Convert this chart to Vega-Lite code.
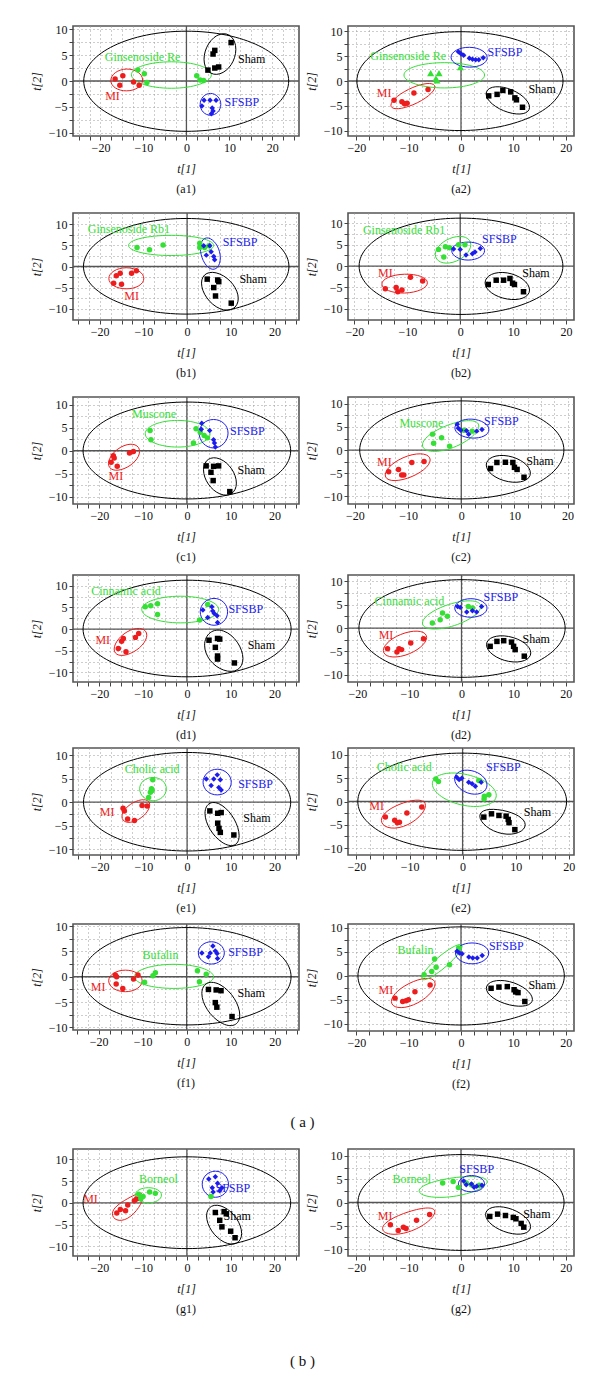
{
"$schema": "https://vega.github.io/schema/vega-lite/v6.json",
"padding": {"left": 29, "top": 22, "right": 5, "bottom": 5},
"config": {
 "view": {"stroke": "#555", "strokeWidth": 1.6},
 "legend": {"disable": true},
 "range": {"category": ["#33e033", "#ee1c1c", "#1c1cee", "#000000", "#000000"], "symbol": ["circle", "circle", "diamond", "square"]},
 "axis": {"domain": false, "grid": true, "gridColor": "#9a9a9a", "gridDash": [1, 3], "gridWidth": 1, "tickColor": "#444", "tickSize": 4, "tickWidth": 1, "labelOverlap": false, "labelFont": "Liberation Serif", "labelFontSize": 12, "labelColor": "#111", "labelPadding": 2, "titleFont": "Liberation Serif", "titleFontSize": 12, "titleFontStyle": "italic", "titleFontWeight": "normal", "titleColor": "#111"},
 "axisX": {"titlePadding": 10},
 "axisY": {"titlePadding": 5},
 "title": {"orient": "bottom", "font": "Liberation Serif", "fontSize": 12, "fontWeight": "normal", "color": "#111", "offset": 10, "anchor": "middle"},
 "point": {"filled": true, "opacity": 1, "size": 30},
 "text": {"font": "Liberation Serif", "fontSize": 12}
},
"datasets": {
 "pts": [
  {"p":"a1","g":"MI","x":-16.6,"y":0.4},{"p":"a1","g":"MI","x":-14.8,"y":1.0},{"p":"a1","g":"MI","x":-15.5,"y":-0.8},{"p":"a1","g":"MI","x":-12.3,"y":-0.2},{"p":"a1","g":"MI","x":-11.0,"y":-0.8},
  {"p":"a1","g":"Drug","x":-11.3,"y":2.1},{"p":"a1","g":"Drug","x":-9.8,"y":1.4},{"p":"a1","g":"Drug","x":-9.2,"y":-0.3},{"p":"a1","g":"Drug","x":2.4,"y":1.0},{"p":"a1","g":"Drug","x":3.2,"y":0.2},{"p":"a1","g":"Drug","x":4.0,"y":0.1},
  {"p":"a1","g":"SFSBP","x":4.1,"y":-3.7},{"p":"a1","g":"SFSBP","x":5.5,"y":-3.7},{"p":"a1","g":"SFSBP","x":6.9,"y":-3.7},{"p":"a1","g":"SFSBP","x":3.6,"y":-4.8},{"p":"a1","g":"SFSBP","x":6.0,"y":-5.2},{"p":"a1","g":"SFSBP","x":6.2,"y":-5.8},{"p":"a1","g":"SFSBP","x":5.8,"y":-6.3},
  {"p":"a1","g":"Sham","x":10.4,"y":7.4},{"p":"a1","g":"Sham","x":6.6,"y":5.9},{"p":"a1","g":"Sham","x":6.2,"y":5.2},{"p":"a1","g":"Sham","x":5.0,"y":2.1},{"p":"a1","g":"Sham","x":6.6,"y":2.5},{"p":"a1","g":"Sham","x":7.5,"y":2.7},

  {"p":"a2","g":"MI","x":-12.8,"y":-3.9},{"p":"a2","g":"MI","x":-11.3,"y":-4.2},{"p":"a2","g":"MI","x":-10.8,"y":-4.6},{"p":"a2","g":"MI","x":-10.3,"y":-4.5},{"p":"a2","g":"MI","x":-9.0,"y":-2.4},{"p":"a2","g":"MI","x":-6.3,"y":-1.7},
  {"p":"a2","g":"Drug","x":-5.8,"y":1.6},{"p":"a2","g":"Drug","x":-4.2,"y":1.6},{"p":"a2","g":"Drug","x":-4.8,"y":0.5},{"p":"a2","g":"Drug","x":-4.6,"y":0.1},{"p":"a2","g":"Drug","x":-0.1,"y":2.8},
  {"p":"a2","g":"SFSBP","x":-0.5,"y":5.9},{"p":"a2","g":"SFSBP","x":0.0,"y":5.5},{"p":"a2","g":"SFSBP","x":0.5,"y":5.2},{"p":"a2","g":"SFSBP","x":1.6,"y":4.6},{"p":"a2","g":"SFSBP","x":2.2,"y":4.4},{"p":"a2","g":"SFSBP","x":2.8,"y":4.3},{"p":"a2","g":"SFSBP","x":3.4,"y":4.3},{"p":"a2","g":"SFSBP","x":4.25,"y":4.7},
  {"p":"a2","g":"Sham","x":5.3,"y":-3.0},{"p":"a2","g":"Sham","x":6.9,"y":-2.7},{"p":"a2","g":"Sham","x":8.0,"y":-1.9},{"p":"a2","g":"Sham","x":9.5,"y":-2.2},{"p":"a2","g":"Sham","x":10.3,"y":-3.4},{"p":"a2","g":"Sham","x":10.6,"y":-3.8},{"p":"a2","g":"Sham","x":11.75,"y":-5.3},

  {"p":"b1","g":"MI","x":-16.8,"y":-4.0},{"p":"b1","g":"MI","x":-16.2,"y":-2.2},{"p":"b1","g":"MI","x":-15.3,"y":-1.6},{"p":"b1","g":"MI","x":-15.0,"y":-4.2},{"p":"b1","g":"MI","x":-12.7,"y":-1.6},{"p":"b1","g":"MI","x":-11.6,"y":-1.0},
  {"p":"b1","g":"Drug","x":-11.45,"y":4.5},{"p":"b1","g":"Drug","x":-8.6,"y":4.0},{"p":"b1","g":"Drug","x":-5.5,"y":5.1},{"p":"b1","g":"Drug","x":2.9,"y":5.5},{"p":"b1","g":"Drug","x":2.9,"y":4.5},{"p":"b1","g":"Drug","x":4.0,"y":4.5},{"p":"b1","g":"Drug","x":5.0,"y":4.9},
  {"p":"b1","g":"SFSBP","x":3.8,"y":4.9},{"p":"b1","g":"SFSBP","x":4.4,"y":2.7},{"p":"b1","g":"SFSBP","x":5.5,"y":3.5},{"p":"b1","g":"SFSBP","x":6.1,"y":2.4},{"p":"b1","g":"SFSBP","x":6.3,"y":1.6},{"p":"b1","g":"SFSBP","x":5.2,"y":4.9},
  {"p":"b1","g":"Sham","x":4.6,"y":-3.0},{"p":"b1","g":"Sham","x":7.0,"y":-3.2},{"p":"b1","g":"Sham","x":7.25,"y":-3.6},{"p":"b1","g":"Sham","x":6.1,"y":-5.0},{"p":"b1","g":"Sham","x":6.5,"y":-7.0},{"p":"b1","g":"Sham","x":10.1,"y":-8.7},

  {"p":"b2","g":"MI","x":-14.15,"y":-5.3},{"p":"b2","g":"MI","x":-12.1,"y":-5.0},{"p":"b2","g":"MI","x":-11.8,"y":-6.0},{"p":"b2","g":"MI","x":-11.0,"y":-5.6},{"p":"b2","g":"MI","x":-9.4,"y":-2.6},{"p":"b2","g":"MI","x":-7.1,"y":-3.5},
  {"p":"b2","g":"Drug","x":-4.1,"y":3.9},{"p":"b2","g":"Drug","x":-2.8,"y":4.5},{"p":"b2","g":"Drug","x":-2.0,"y":4.3},{"p":"b2","g":"Drug","x":-3.1,"y":2.1},{"p":"b2","g":"Drug","x":-0.3,"y":5.0},{"p":"b2","g":"Drug","x":0.9,"y":5.0},
  {"p":"b2","g":"SFSBP","x":-1.25,"y":4.0},{"p":"b2","g":"SFSBP","x":0.0,"y":3.9},{"p":"b2","g":"SFSBP","x":1.1,"y":2.6},{"p":"b2","g":"SFSBP","x":2.3,"y":2.9},{"p":"b2","g":"SFSBP","x":2.8,"y":3.3},{"p":"b2","g":"SFSBP","x":3.8,"y":4.1},
  {"p":"b2","g":"Sham","x":5.3,"y":-4.3},{"p":"b2","g":"Sham","x":6.8,"y":-3.3},{"p":"b2","g":"Sham","x":8.2,"y":-3.3},{"p":"b2","g":"Sham","x":9.4,"y":-2.9},{"p":"b2","g":"Sham","x":9.9,"y":-4.0},{"p":"b2","g":"Sham","x":10.25,"y":-4.3},{"p":"b2","g":"Sham","x":11.95,"y":-6.0},

  {"p":"c1","g":"MI","x":-17.3,"y":-2.5},{"p":"c1","g":"MI","x":-16.8,"y":-1.1},{"p":"c1","g":"MI","x":-16.6,"y":-1.6},{"p":"c1","g":"MI","x":-15.9,"y":-3.4},{"p":"c1","g":"MI","x":-13.1,"y":-0.5},{"p":"c1","g":"MI","x":-12.2,"y":-0.15},
  {"p":"c1","g":"Drug","x":-8.4,"y":4.4},{"p":"c1","g":"Drug","x":-8.2,"y":2.4},{"p":"c1","g":"Drug","x":2.1,"y":4.8},{"p":"c1","g":"Drug","x":3.05,"y":4.0},{"p":"c1","g":"Drug","x":3.95,"y":3.3},{"p":"c1","g":"Drug","x":1.5,"y":1.7},{"p":"c1","g":"Drug","x":4.7,"y":2.8},
  {"p":"c1","g":"SFSBP","x":3.4,"y":6.0},{"p":"c1","g":"SFSBP","x":3.3,"y":4.7},{"p":"c1","g":"SFSBP","x":5.2,"y":4.4},{"p":"c1","g":"SFSBP","x":6.1,"y":2.4},{"p":"c1","g":"SFSBP","x":6.3,"y":1.7},{"p":"c1","g":"SFSBP","x":6.5,"y":0.8},
  {"p":"c1","g":"Sham","x":4.4,"y":-3.3},{"p":"c1","g":"Sham","x":6.1,"y":-3.4},{"p":"c1","g":"Sham","x":7.25,"y":-3.3},{"p":"c1","g":"Sham","x":5.5,"y":-4.7},{"p":"c1","g":"Sham","x":6.0,"y":-6.5},{"p":"c1","g":"Sham","x":9.8,"y":-8.9},

  {"p":"c2","g":"MI","x":-13.65,"y":-4.7},{"p":"c2","g":"MI","x":-11.8,"y":-4.2},{"p":"c2","g":"MI","x":-11.2,"y":-5.4},{"p":"c2","g":"MI","x":-10.8,"y":-5.4},{"p":"c2","g":"MI","x":-9.3,"y":-2.7},{"p":"c2","g":"MI","x":-7.0,"y":-2.5},
  {"p":"c2","g":"Drug","x":-5.4,"y":3.45},{"p":"c2","g":"Drug","x":-5.2,"y":1.45},{"p":"c2","g":"Drug","x":-3.7,"y":2.65},{"p":"c2","g":"Drug","x":-2.2,"y":0.85},{"p":"c2","g":"Drug","x":0.5,"y":4.3},{"p":"c2","g":"Drug","x":2.05,"y":4.1},
  {"p":"c2","g":"SFSBP","x":-0.75,"y":5.6},{"p":"c2","g":"SFSBP","x":-0.55,"y":4.7},{"p":"c2","g":"SFSBP","x":-0.1,"y":4.3},{"p":"c2","g":"SFSBP","x":1.0,"y":4.2},{"p":"c2","g":"SFSBP","x":1.4,"y":3.4},{"p":"c2","g":"SFSBP","x":2.9,"y":4.1},{"p":"c2","g":"SFSBP","x":3.9,"y":4.45},
  {"p":"c2","g":"Sham","x":5.5,"y":-4.0},{"p":"c2","g":"Sham","x":6.7,"y":-2.7},{"p":"c2","g":"Sham","x":8.3,"y":-2.65},{"p":"c2","g":"Sham","x":9.7,"y":-2.7},{"p":"c2","g":"Sham","x":10.0,"y":-3.75},{"p":"c2","g":"Sham","x":10.5,"y":-4.2},{"p":"c2","g":"Sham","x":11.8,"y":-5.9},

  {"p":"d1","g":"MI","x":-15.65,"y":-4.45},{"p":"d1","g":"MI","x":-14.9,"y":-2.8},{"p":"d1","g":"MI","x":-14.5,"y":-2.15},{"p":"d1","g":"MI","x":-13.9,"y":-5.2},{"p":"d1","g":"MI","x":-11.75,"y":-1.9},{"p":"d1","g":"MI","x":-11.0,"y":-1.0},
  {"p":"d1","g":"Drug","x":-9.5,"y":5.15},{"p":"d1","g":"Drug","x":-8.25,"y":5.4},{"p":"d1","g":"Drug","x":-6.7,"y":5.85},{"p":"d1","g":"Drug","x":-6.7,"y":3.4},{"p":"d1","g":"Drug","x":2.9,"y":2.1},{"p":"d1","g":"Drug","x":4.75,"y":5.7},
  {"p":"d1","g":"SFSBP","x":3.65,"y":4.4},{"p":"d1","g":"SFSBP","x":5.7,"y":5.15},{"p":"d1","g":"SFSBP","x":5.9,"y":4.2},{"p":"d1","g":"SFSBP","x":6.25,"y":3.6},{"p":"d1","g":"SFSBP","x":4.75,"y":2.7},{"p":"d1","g":"SFSBP","x":6.9,"y":3.1},{"p":"d1","g":"SFSBP","x":7.0,"y":1.55},
  {"p":"d1","g":"Sham","x":5.05,"y":-2.55},{"p":"d1","g":"Sham","x":7.0,"y":-2.15},{"p":"d1","g":"Sham","x":7.5,"y":-2.3},{"p":"d1","g":"Sham","x":6.5,"y":-4.2},{"p":"d1","g":"Sham","x":7.0,"y":-6.2},{"p":"d1","g":"Sham","x":7.0,"y":-6.9},{"p":"d1","g":"Sham","x":10.85,"y":-7.8},

  {"p":"d2","g":"MI","x":-14.2,"y":-4.4},{"p":"d2","g":"MI","x":-12.4,"y":-5.1},{"p":"d2","g":"MI","x":-12.0,"y":-4.4},{"p":"d2","g":"MI","x":-11.5,"y":-4.6},{"p":"d2","g":"MI","x":-9.75,"y":-3.2},{"p":"d2","g":"MI","x":-7.3,"y":-2.3},
  {"p":"d2","g":"Drug","x":-5.6,"y":1.05},{"p":"d2","g":"Drug","x":-4.1,"y":1.75},{"p":"d2","g":"Drug","x":-3.65,"y":3.2},{"p":"d2","g":"Drug","x":-2.7,"y":2.5},{"p":"d2","g":"Drug","x":1.3,"y":4.6},{"p":"d2","g":"Drug","x":2.1,"y":4.25},
  {"p":"d2","g":"SFSBP","x":-0.75,"y":4.6},{"p":"d2","g":"SFSBP","x":-0.25,"y":4.4},{"p":"d2","g":"SFSBP","x":1.0,"y":3.4},{"p":"d2","g":"SFSBP","x":2.1,"y":3.7},{"p":"d2","g":"SFSBP","x":2.9,"y":3.4},{"p":"d2","g":"SFSBP","x":3.85,"y":4.6},
  {"p":"d2","g":"Sham","x":5.5,"y":-3.9},{"p":"d2","g":"Sham","x":6.8,"y":-2.85},{"p":"d2","g":"Sham","x":8.1,"y":-2.7},{"p":"d2","g":"Sham","x":9.6,"y":-3.0},{"p":"d2","g":"Sham","x":10.0,"y":-3.9},{"p":"d2","g":"Sham","x":10.3,"y":-4.6},{"p":"d2","g":"Sham","x":12.05,"y":-6.0},

  {"p":"e1","g":"MI","x":-14.65,"y":-1.3},{"p":"e1","g":"MI","x":-14.35,"y":-1.85},{"p":"e1","g":"MI","x":-13.6,"y":-3.55},{"p":"e1","g":"MI","x":-12.05,"y":-3.9},{"p":"e1","g":"MI","x":-10.3,"y":-0.7},{"p":"e1","g":"MI","x":-9.15,"y":-0.8},
  {"p":"e1","g":"Drug","x":-7.85,"y":4.75},{"p":"e1","g":"Drug","x":-8.15,"y":2.85},{"p":"e1","g":"Drug","x":-8.4,"y":2.1},{"p":"e1","g":"Drug","x":-8.8,"y":1.0},{"p":"e1","g":"Drug","x":-8.0,"y":2.5},
  {"p":"e1","g":"SFSBP","x":4.4,"y":4.9},{"p":"e1","g":"SFSBP","x":5.5,"y":3.55},{"p":"e1","g":"SFSBP","x":6.1,"y":4.9},{"p":"e1","g":"SFSBP","x":6.9,"y":5.8},{"p":"e1","g":"SFSBP","x":7.6,"y":4.75},{"p":"e1","g":"SFSBP","x":7.25,"y":3.1},{"p":"e1","g":"SFSBP","x":7.8,"y":2.6},
  {"p":"e1","g":"Sham","x":5.2,"y":-1.85},{"p":"e1","g":"Sham","x":7.0,"y":-2.35},{"p":"e1","g":"Sham","x":7.8,"y":-2.2},{"p":"e1","g":"Sham","x":7.0,"y":-4.45},{"p":"e1","g":"Sham","x":7.3,"y":-5.55},{"p":"e1","g":"Sham","x":7.6,"y":-6.4},{"p":"e1","g":"Sham","x":10.7,"y":-6.95},

  {"p":"e2","g":"MI","x":-14.55,"y":-3.35},{"p":"e2","g":"MI","x":-12.8,"y":-4.05},{"p":"e2","g":"MI","x":-12.3,"y":-4.55},{"p":"e2","g":"MI","x":-11.9,"y":-4.45},{"p":"e2","g":"MI","x":-10.5,"y":-2.45},{"p":"e2","g":"MI","x":-7.7,"y":-1.2},
  {"p":"e2","g":"Drug","x":-5.05,"y":4.85},{"p":"e2","g":"Drug","x":-4.55,"y":4.3},{"p":"e2","g":"Drug","x":4.1,"y":1.15},{"p":"e2","g":"Drug","x":4.95,"y":1.45},{"p":"e2","g":"Drug","x":4.05,"y":0.55},{"p":"e2","g":"Drug","x":3.05,"y":4.5},
  {"p":"e2","g":"SFSBP","x":-1.1,"y":5.2},{"p":"e2","g":"SFSBP","x":-0.65,"y":4.7},{"p":"e2","g":"SFSBP","x":-0.15,"y":5.0},{"p":"e2","g":"SFSBP","x":1.15,"y":4.15},{"p":"e2","g":"SFSBP","x":1.8,"y":3.8},{"p":"e2","g":"SFSBP","x":2.4,"y":3.3},{"p":"e2","g":"SFSBP","x":3.5,"y":4.15},
  {"p":"e2","g":"Sham","x":4.0,"y":-3.35},{"p":"e2","g":"Sham","x":5.45,"y":-2.65},{"p":"e2","g":"Sham","x":6.85,"y":-3.0},{"p":"e2","g":"Sham","x":8.2,"y":-3.15},{"p":"e2","g":"Sham","x":8.6,"y":-3.85},{"p":"e2","g":"Sham","x":8.75,"y":-4.55},{"p":"e2","g":"Sham","x":9.85,"y":-6.05},

  {"p":"f1","g":"MI","x":-16.2,"y":0.35},{"p":"f1","g":"MI","x":-15.9,"y":0.0},{"p":"f1","g":"MI","x":-16.0,"y":-1.45},{"p":"f1","g":"MI","x":-14.5,"y":-2.3},{"p":"f1","g":"MI","x":-12.05,"y":-0.45},{"p":"f1","g":"MI","x":-11.05,"y":0.35},
  {"p":"f1","g":"Drug","x":-9.55,"y":-1.1},{"p":"f1","g":"Drug","x":-7.65,"y":0.2},{"p":"f1","g":"Drug","x":-7.1,"y":0.8},{"p":"f1","g":"Drug","x":2.45,"y":1.2},{"p":"f1","g":"Drug","x":4.45,"y":0.5},{"p":"f1","g":"Drug","x":2.9,"y":-1.0},
  {"p":"f1","g":"SFSBP","x":3.45,"y":4.7},{"p":"f1","g":"SFSBP","x":4.95,"y":3.95},{"p":"f1","g":"SFSBP","x":5.95,"y":6.05},{"p":"f1","g":"SFSBP","x":6.5,"y":5.1},{"p":"f1","g":"SFSBP","x":5.35,"y":4.7},{"p":"f1","g":"SFSBP","x":7.0,"y":3.6},{"p":"f1","g":"SFSBP","x":6.9,"y":4.6},
  {"p":"f1","g":"Sham","x":4.95,"y":-2.5},{"p":"f1","g":"Sham","x":6.7,"y":-2.6},{"p":"f1","g":"Sham","x":7.8,"y":-2.75},{"p":"f1","g":"Sham","x":6.5,"y":-5.1},{"p":"f1","g":"Sham","x":6.85,"y":-6.0},{"p":"f1","g":"Sham","x":10.3,"y":-7.85},

  {"p":"f2","g":"MI","x":-12.6,"y":-4.65},{"p":"f2","g":"MI","x":-11.15,"y":-5.35},{"p":"f2","g":"MI","x":-10.5,"y":-5.2},{"p":"f2","g":"MI","x":-10.05,"y":-5.0},{"p":"f2","g":"MI","x":-8.8,"y":-3.3},{"p":"f2","g":"MI","x":-5.9,"y":-1.9},
  {"p":"f2","g":"Drug","x":-7.05,"y":0.2},{"p":"f2","g":"Drug","x":-5.6,"y":0.9},{"p":"f2","g":"Drug","x":-4.75,"y":1.8},{"p":"f2","g":"Drug","x":-5.05,"y":3.5},{"p":"f2","g":"Drug","x":-2.2,"y":2.3},{"p":"f2","g":"Drug","x":-0.45,"y":5.8},
  {"p":"f2","g":"SFSBP","x":-0.75,"y":5.1},{"p":"f2","g":"SFSBP","x":-0.3,"y":4.75},{"p":"f2","g":"SFSBP","x":0.2,"y":4.6},{"p":"f2","g":"SFSBP","x":1.5,"y":3.9},{"p":"f2","g":"SFSBP","x":2.25,"y":3.7},{"p":"f2","g":"SFSBP","x":3.1,"y":3.7},{"p":"f2","g":"SFSBP","x":4.05,"y":4.25},
  {"p":"f2","g":"Sham","x":5.75,"y":-2.6},{"p":"f2","g":"Sham","x":7.25,"y":-2.35},{"p":"f2","g":"Sham","x":8.85,"y":-2.25},{"p":"f2","g":"Sham","x":10.15,"y":-2.9},{"p":"f2","g":"Sham","x":10.45,"y":-3.35},{"p":"f2","g":"Sham","x":10.9,"y":-3.5},{"p":"f2","g":"Sham","x":12.2,"y":-5.35},

  {"p":"g1","g":"MI","x":-16.0,"y":-2.3},{"p":"g1","g":"MI","x":-15.2,"y":-1.5},{"p":"g1","g":"MI","x":-14.0,"y":-1.8},{"p":"g1","g":"MI","x":-13.5,"y":-0.5},{"p":"g1","g":"MI","x":-12.0,"y":0.5},{"p":"g1","g":"MI","x":-11.5,"y":0.9},
  {"p":"g1","g":"Drug","x":-11.0,"y":2.0},{"p":"g1","g":"Drug","x":-10.0,"y":1.5},{"p":"g1","g":"Drug","x":-8.5,"y":2.5},{"p":"g1","g":"Drug","x":-7.2,"y":2.2},{"p":"g1","g":"Drug","x":-10.5,"y":1.0},{"p":"g1","g":"Drug","x":5.5,"y":1.5},
  {"p":"g1","g":"SFSBP","x":5.0,"y":5.5},{"p":"g1","g":"SFSBP","x":6.5,"y":6.0},{"p":"g1","g":"SFSBP","x":7.0,"y":4.5},{"p":"g1","g":"SFSBP","x":5.8,"y":3.5},{"p":"g1","g":"SFSBP","x":8.0,"y":3.5},{"p":"g1","g":"SFSBP","x":7.5,"y":2.8},{"p":"g1","g":"SFSBP","x":6.0,"y":2.5},
  {"p":"g1","g":"Sham","x":6.5,"y":-2.2},{"p":"g1","g":"Sham","x":8.5,"y":-2.0},{"p":"g1","g":"Sham","x":9.0,"y":-2.5},{"p":"g1","g":"Sham","x":7.5,"y":-4.0},{"p":"g1","g":"Sham","x":8.0,"y":-5.5},{"p":"g1","g":"Sham","x":10.0,"y":-6.5},{"p":"g1","g":"Sham","x":11.0,"y":-8.0},

  {"p":"g2","g":"MI","x":-13.5,"y":-4.8},{"p":"g2","g":"MI","x":-12.0,"y":-6.0},{"p":"g2","g":"MI","x":-11.0,"y":-5.3},{"p":"g2","g":"MI","x":-10.5,"y":-5.6},{"p":"g2","g":"MI","x":-8.5,"y":-3.8},{"p":"g2","g":"MI","x":-6.0,"y":-2.6},
  {"p":"g2","g":"Drug","x":-3.5,"y":4.2},{"p":"g2","g":"Drug","x":-1.5,"y":4.5},{"p":"g2","g":"Drug","x":-0.5,"y":3.2},{"p":"g2","g":"Drug","x":1.0,"y":4.2},{"p":"g2","g":"Drug","x":2.0,"y":3.8},{"p":"g2","g":"Drug","x":3.5,"y":3.7},
  {"p":"g2","g":"SFSBP","x":0.5,"y":4.6},{"p":"g2","g":"SFSBP","x":1.0,"y":3.8},{"p":"g2","g":"SFSBP","x":2.0,"y":4.0},{"p":"g2","g":"SFSBP","x":3.0,"y":3.5},{"p":"g2","g":"SFSBP","x":4.0,"y":3.7},{"p":"g2","g":"SFSBP","x":2.5,"y":3.3},
  {"p":"g2","g":"Sham","x":5.5,"y":-3.0},{"p":"g2","g":"Sham","x":7.0,"y":-2.5},{"p":"g2","g":"Sham","x":8.5,"y":-2.8},{"p":"g2","g":"Sham","x":10.0,"y":-3.2},{"p":"g2","g":"Sham","x":10.5,"y":-3.5},{"p":"g2","g":"Sham","x":11.5,"y":-4.5},{"p":"g2","g":"Sham","x":12.0,"y":-5.3}
 ],
 "ell": [
  {"p":"a1","g":"T2","o":0,"x":-23.9,"y":0},{"p":"a1","g":"T2","o":1,"x":0,"y":9.6},{"p":"a1","g":"T2","o":2,"x":23.8,"y":0},{"p":"a1","g":"T2","o":3,"x":0,"y":-9.7},
  {"p":"a1","g":"MI","o":0,"x":-17.6,"y":0.1},{"p":"a1","g":"MI","o":1,"x":-13.9,"y":2.3},{"p":"a1","g":"MI","o":2,"x":-10.2,"y":0.2},{"p":"a1","g":"MI","o":3,"x":-13.9,"y":-1.9},
  {"p":"a1","g":"Drug","o":0,"x":-12.8,"y":1.2},{"p":"a1","g":"Drug","o":1,"x":-3.5,"y":3.7},{"p":"a1","g":"Drug","o":2,"x":5.8,"y":1.2},{"p":"a1","g":"Drug","o":3,"x":-3.5,"y":-1.4},
  {"p":"a1","g":"SFSBP","o":0,"x":3.2,"y":-4.5},{"p":"a1","g":"SFSBP","o":1,"x":5.6,"y":-2.4},{"p":"a1","g":"SFSBP","o":2,"x":8.0,"y":-4.5},{"p":"a1","g":"SFSBP","o":3,"x":5.6,"y":-6.6},
  {"p":"a1","g":"Sham","o":0,"x":4.1,"y":4.2},{"p":"a1","g":"Sham","o":1,"x":7.8,"y":9.0},{"p":"a1","g":"Sham","o":2,"x":11.5,"y":6.1},{"p":"a1","g":"Sham","o":3,"x":7.8,"y":1.4},

  {"p":"a2","g":"T2","o":0,"x":-19.9,"y":0},{"p":"a2","g":"T2","o":1,"x":-0.2,"y":9.95},{"p":"a2","g":"T2","o":2,"x":19.5,"y":0},{"p":"a2","g":"T2","o":3,"x":-0.2,"y":-10},
  {"p":"a2","g":"MI","o":0,"x":-13.4,"y":-4.9},{"p":"a2","g":"MI","o":1,"x":-9.2,"y":-1.3},{"p":"a2","g":"MI","o":2,"x":-5.0,"y":-1.2},{"p":"a2","g":"MI","o":3,"x":-9.2,"y":-4.8},
  {"p":"a2","g":"Drug","o":0,"x":-10.9,"y":1.2},{"p":"a2","g":"Drug","o":1,"x":-3.2,"y":3.7},{"p":"a2","g":"Drug","o":2,"x":4.5,"y":1.2},{"p":"a2","g":"Drug","o":3,"x":-3.2,"y":-1.4},
  {"p":"a2","g":"SFSBP","o":0,"x":-1.9,"y":4.8},{"p":"a2","g":"SFSBP","o":1,"x":1.6,"y":6.8},{"p":"a2","g":"SFSBP","o":2,"x":5.0,"y":4.7},{"p":"a2","g":"SFSBP","o":3,"x":1.6,"y":2.8},
  {"p":"a2","g":"Sham","o":0,"x":4.8,"y":-2.6},{"p":"a2","g":"Sham","o":1,"x":8.95,"y":-1.5},{"p":"a2","g":"Sham","o":2,"x":13.1,"y":-5.3},{"p":"a2","g":"Sham","o":3,"x":8.95,"y":-6.3},

  {"p":"b1","g":"T2","o":0,"x":-23.7,"y":0},{"p":"b1","g":"T2","o":1,"x":-0.2,"y":11.4},{"p":"b1","g":"T2","o":2,"x":23.3,"y":0},{"p":"b1","g":"T2","o":3,"x":-0.2,"y":-11.3},
  {"p":"b1","g":"MI","o":0,"x":-17.9,"y":-2.85},{"p":"b1","g":"MI","o":1,"x":-13.9,"y":-0.3},{"p":"b1","g":"MI","o":2,"x":-9.9,"y":-2.85},{"p":"b1","g":"MI","o":3,"x":-13.9,"y":-5.3},
  {"p":"b1","g":"Drug","o":0,"x":-13.4,"y":5.0},{"p":"b1","g":"Drug","o":1,"x":-3.65,"y":7.4},{"p":"b1","g":"Drug","o":2,"x":6.1,"y":5.0},{"p":"b1","g":"Drug","o":3,"x":-3.65,"y":2.6},
  {"p":"b1","g":"SFSBP","o":0,"x":3.05,"y":4.3},{"p":"b1","g":"SFSBP","o":1,"x":5.3,"y":6.6},{"p":"b1","g":"SFSBP","o":2,"x":7.6,"y":2.05},{"p":"b1","g":"SFSBP","o":3,"x":5.3,"y":-0.5},
  {"p":"b1","g":"Sham","o":0,"x":3.3,"y":-3.95},{"p":"b1","g":"Sham","o":1,"x":7.5,"y":-1.8},{"p":"b1","g":"Sham","o":2,"x":11.7,"y":-7.6},{"p":"b1","g":"Sham","o":3,"x":7.5,"y":-10.0},

  {"p":"b2","g":"T2","o":0,"x":-19.1,"y":0},{"p":"b2","g":"T2","o":1,"x":0.15,"y":11.2},{"p":"b2","g":"T2","o":2,"x":19.4,"y":0},{"p":"b2","g":"T2","o":3,"x":0.15,"y":-11.3},
  {"p":"b2","g":"MI","o":0,"x":-14.8,"y":-4.2},{"p":"b2","g":"MI","o":1,"x":-10.5,"y":-1.9},{"p":"b2","g":"MI","o":2,"x":-6.2,"y":-3.9},{"p":"b2","g":"MI","o":3,"x":-10.5,"y":-6.3},
  {"p":"b2","g":"Drug","o":0,"x":-4.7,"y":2.7},{"p":"b2","g":"Drug","o":1,"x":-1.35,"y":6.7},{"p":"b2","g":"Drug","o":2,"x":2.0,"y":5.0},{"p":"b2","g":"Drug","o":3,"x":-1.35,"y":0.9},
  {"p":"b2","g":"SFSBP","o":0,"x":-1.6,"y":3.6},{"p":"b2","g":"SFSBP","o":1,"x":1.5,"y":5.6},{"p":"b2","g":"SFSBP","o":2,"x":4.6,"y":3.6},{"p":"b2","g":"SFSBP","o":3,"x":1.5,"y":1.4},
  {"p":"b2","g":"Sham","o":0,"x":4.7,"y":-3.9},{"p":"b2","g":"Sham","o":1,"x":8.9,"y":-1.6},{"p":"b2","g":"Sham","o":2,"x":13.1,"y":-5.6},{"p":"b2","g":"Sham","o":3,"x":8.9,"y":-7.7},

  {"p":"c1","g":"T2","o":0,"x":-23.7,"y":0},{"p":"c1","g":"T2","o":1,"x":0,"y":10.6},{"p":"c1","g":"T2","o":2,"x":23.7,"y":0},{"p":"c1","g":"T2","o":3,"x":0,"y":-10.5},
  {"p":"c1","g":"MI","o":0,"x":-17.9,"y":-2.8},{"p":"c1","g":"MI","o":1,"x":-14.35,"y":1.1},{"p":"c1","g":"MI","o":2,"x":-10.8,"y":-0.15},{"p":"c1","g":"MI","o":3,"x":-14.35,"y":-3.9},
  {"p":"c1","g":"Drug","o":0,"x":-9.5,"y":3.7},{"p":"c1","g":"Drug","o":1,"x":-2.1,"y":6.6},{"p":"c1","g":"Drug","o":2,"x":5.3,"y":3.7},{"p":"c1","g":"Drug","o":3,"x":-2.1,"y":0.8},
  {"p":"c1","g":"SFSBP","o":0,"x":2.8,"y":3.85},{"p":"c1","g":"SFSBP","o":1,"x":6.1,"y":6.8},{"p":"c1","g":"SFSBP","o":2,"x":9.4,"y":3.85},{"p":"c1","g":"SFSBP","o":3,"x":6.1,"y":0.6},
  {"p":"c1","g":"Sham","o":0,"x":3.8,"y":-4.15},{"p":"c1","g":"Sham","o":1,"x":7.55,"y":-1.8},{"p":"c1","g":"Sham","o":2,"x":11.3,"y":-7.05},{"p":"c1","g":"Sham","o":3,"x":7.55,"y":-9.4},

  {"p":"c2","g":"T2","o":0,"x":-19.1,"y":0},{"p":"c2","g":"T2","o":1,"x":0.1,"y":10.65},{"p":"c2","g":"T2","o":2,"x":19.3,"y":0},{"p":"c2","g":"T2","o":3,"x":0.1,"y":-10.6},
  {"p":"c2","g":"MI","o":0,"x":-14.3,"y":-5.4},{"p":"c2","g":"MI","o":1,"x":-10.1,"y":-1.3},{"p":"c2","g":"MI","o":2,"x":-5.85,"y":-2.15},{"p":"c2","g":"MI","o":3,"x":-10.1,"y":-6.1},
  {"p":"c2","g":"Drug","o":0,"x":-7.3,"y":1.1},{"p":"c2","g":"Drug","o":1,"x":-2.0,"y":5.6},{"p":"c2","g":"Drug","o":2,"x":3.3,"y":5.2},{"p":"c2","g":"Drug","o":3,"x":-2.0,"y":0.35},
  {"p":"c2","g":"SFSBP","o":0,"x":-1.2,"y":4.8},{"p":"c2","g":"SFSBP","o":1,"x":2.0,"y":6.7},{"p":"c2","g":"SFSBP","o":2,"x":5.2,"y":4.4},{"p":"c2","g":"SFSBP","o":3,"x":2.0,"y":2.6},
  {"p":"c2","g":"Sham","o":0,"x":4.7,"y":-3.25},{"p":"c2","g":"Sham","o":1,"x":8.85,"y":-1.3},{"p":"c2","g":"Sham","o":2,"x":13.0,"y":-5.0},{"p":"c2","g":"Sham","o":3,"x":8.85,"y":-6.85},

  {"p":"d1","g":"T2","o":0,"x":-23.7,"y":0},{"p":"d1","g":"T2","o":1,"x":0,"y":11.3},{"p":"d1","g":"T2","o":2,"x":23.8,"y":0},{"p":"d1","g":"T2","o":3,"x":0,"y":-11.0},
  {"p":"d1","g":"MI","o":0,"x":-16.6,"y":-4.6},{"p":"d1","g":"MI","o":1,"x":-12.9,"y":-0.25},{"p":"d1","g":"MI","o":2,"x":-9.15,"y":-1.4},{"p":"d1","g":"MI","o":3,"x":-12.9,"y":-5.6},
  {"p":"d1","g":"Drug","o":0,"x":-10.3,"y":4.55},{"p":"d1","g":"Drug","o":1,"x":-1.5,"y":7.6},{"p":"d1","g":"Drug","o":2,"x":7.25,"y":4.55},{"p":"d1","g":"Drug","o":3,"x":-1.5,"y":1.45},
  {"p":"d1","g":"SFSBP","o":0,"x":3.05,"y":4.0},{"p":"d1","g":"SFSBP","o":1,"x":6.2,"y":7.1},{"p":"d1","g":"SFSBP","o":2,"x":9.3,"y":4.0},{"p":"d1","g":"SFSBP","o":3,"x":6.2,"y":0.9},
  {"p":"d1","g":"Sham","o":0,"x":4.05,"y":-3.7},{"p":"d1","g":"Sham","o":1,"x":8.4,"y":-0.45},{"p":"d1","g":"Sham","o":2,"x":12.8,"y":-6.8},{"p":"d1","g":"Sham","o":3,"x":8.4,"y":-9.45},

  {"p":"d2","g":"T2","o":0,"x":-19.7,"y":0},{"p":"d2","g":"T2","o":1,"x":0.1,"y":10.3},{"p":"d2","g":"T2","o":2,"x":19.9,"y":0},{"p":"d2","g":"T2","o":3,"x":0.1,"y":-10.5},
  {"p":"d2","g":"MI","o":0,"x":-15.0,"y":-4.8},{"p":"d2","g":"MI","o":1,"x":-10.85,"y":-1.05},{"p":"d2","g":"MI","o":2,"x":-6.7,"y":-2.0},{"p":"d2","g":"MI","o":3,"x":-10.85,"y":-5.8},
  {"p":"d2","g":"Drug","o":0,"x":-7.5,"y":1.05},{"p":"d2","g":"Drug","o":1,"x":-1.9,"y":5.2},{"p":"d2","g":"Drug","o":2,"x":3.7,"y":4.6},{"p":"d2","g":"Drug","o":3,"x":-1.9,"y":0.35},
  {"p":"d2","g":"SFSBP","o":0,"x":-1.3,"y":4.25},{"p":"d2","g":"SFSBP","o":1,"x":1.8,"y":6.25},{"p":"d2","g":"SFSBP","o":2,"x":4.9,"y":4.25},{"p":"d2","g":"SFSBP","o":3,"x":1.8,"y":2.3},
  {"p":"d2","g":"Sham","o":0,"x":4.8,"y":-3.55},{"p":"d2","g":"Sham","o":1,"x":9.05,"y":-1.8},{"p":"d2","g":"Sham","o":2,"x":13.3,"y":-5.3},{"p":"d2","g":"Sham","o":3,"x":9.05,"y":-7.1},

  {"p":"e1","g":"T2","o":0,"x":-23.7,"y":0},{"p":"e1","g":"T2","o":1,"x":0,"y":10.55},{"p":"e1","g":"T2","o":2,"x":23.7,"y":0},{"p":"e1","g":"T2","o":3,"x":0,"y":-10.35},
  {"p":"e1","g":"MI","o":0,"x":-14.9,"y":-3.05},{"p":"e1","g":"MI","o":1,"x":-11.75,"y":0.15},{"p":"e1","g":"MI","o":2,"x":-8.55,"y":-0.55},{"p":"e1","g":"MI","o":3,"x":-11.75,"y":-3.95},
  {"p":"e1","g":"Drug","o":0,"x":-10.85,"y":2.85},{"p":"e1","g":"Drug","o":1,"x":-7.8,"y":5.25},{"p":"e1","g":"Drug","o":2,"x":-4.75,"y":2.85},{"p":"e1","g":"Drug","o":3,"x":-7.8,"y":0.3},
  {"p":"e1","g":"SFSBP","o":0,"x":3.65,"y":4.25},{"p":"e1","g":"SFSBP","o":1,"x":6.9,"y":7.0},{"p":"e1","g":"SFSBP","o":2,"x":10.1,"y":4.25},{"p":"e1","g":"SFSBP","o":3,"x":6.9,"y":1.55},
  {"p":"e1","g":"Sham","o":0,"x":4.1,"y":-2.35},{"p":"e1","g":"Sham","o":1,"x":8.0,"y":-0.7},{"p":"e1","g":"Sham","o":2,"x":11.9,"y":-7.1},{"p":"e1","g":"Sham","o":3,"x":8.0,"y":-8.5},

  {"p":"e2","g":"T2","o":0,"x":-19.75,"y":0},{"p":"e2","g":"T2","o":1,"x":-0.1,"y":10.4},{"p":"e2","g":"T2","o":2,"x":19.6,"y":0},{"p":"e2","g":"T2","o":3,"x":-0.1,"y":-10.5},
  {"p":"e2","g":"MI","o":0,"x":-15.3,"y":-4.05},{"p":"e2","g":"MI","o":1,"x":-11.15,"y":-0.3},{"p":"e2","g":"MI","o":2,"x":-7.0,"y":-0.85},{"p":"e2","g":"MI","o":3,"x":-11.15,"y":-5.35},
  {"p":"e2","g":"Drug","o":0,"x":-5.7,"y":3.8},{"p":"e2","g":"Drug","o":1,"x":0.3,"y":5.9},{"p":"e2","g":"Drug","o":2,"x":6.35,"y":1.3},{"p":"e2","g":"Drug","o":3,"x":0.3,"y":-0.85},
  {"p":"e2","g":"SFSBP","o":0,"x":-1.5,"y":4.85},{"p":"e2","g":"SFSBP","o":1,"x":1.6,"y":6.65},{"p":"e2","g":"SFSBP","o":2,"x":4.6,"y":3.55},{"p":"e2","g":"SFSBP","o":3,"x":1.6,"y":1.65},
  {"p":"e2","g":"Sham","o":0,"x":3.25,"y":-3.15},{"p":"e2","g":"Sham","o":1,"x":7.5,"y":-1.9},{"p":"e2","g":"Sham","o":2,"x":11.8,"y":-5.0},{"p":"e2","g":"Sham","o":3,"x":7.5,"y":-6.9},

  {"p":"f1","g":"T2","o":0,"x":-23.7,"y":0},{"p":"f1","g":"T2","o":1,"x":0,"y":9.7},{"p":"f1","g":"T2","o":2,"x":23.7,"y":0},{"p":"f1","g":"T2","o":3,"x":0,"y":-9.5},
  {"p":"f1","g":"MI","o":0,"x":-17.7,"y":-0.8},{"p":"f1","g":"MI","o":1,"x":-13.9,"y":1.3},{"p":"f1","g":"MI","o":2,"x":-10.1,"y":-0.8},{"p":"f1","g":"MI","o":3,"x":-13.9,"y":-2.95},
  {"p":"f1","g":"Drug","o":0,"x":-11.85,"y":0},{"p":"f1","g":"Drug","o":1,"x":-2.9,"y":2.45},{"p":"f1","g":"Drug","o":2,"x":6.1,"y":0},{"p":"f1","g":"Drug","o":3,"x":-2.9,"y":-2.3},
  {"p":"f1","g":"SFSBP","o":0,"x":2.65,"y":4.7},{"p":"f1","g":"SFSBP","o":1,"x":5.6,"y":6.9},{"p":"f1","g":"SFSBP","o":2,"x":8.55,"y":4.7},{"p":"f1","g":"SFSBP","o":3,"x":5.6,"y":2.5},
  {"p":"f1","g":"Sham","o":0,"x":3.45,"y":-3.3},{"p":"f1","g":"Sham","o":1,"x":7.75,"y":-1.65},{"p":"f1","g":"Sham","o":2,"x":12.05,"y":-7.55},{"p":"f1","g":"Sham","o":3,"x":7.75,"y":-9.05},

  {"p":"f2","g":"T2","o":0,"x":-19.7,"y":0},{"p":"f2","g":"T2","o":1,"x":0,"y":10.2},{"p":"f2","g":"T2","o":2,"x":19.75,"y":0},{"p":"f2","g":"T2","o":3,"x":0,"y":-10.25},
  {"p":"f2","g":"MI","o":0,"x":-13.3,"y":-5.35},{"p":"f2","g":"MI","o":1,"x":-9.1,"y":-1.2},{"p":"f2","g":"MI","o":2,"x":-4.95,"y":-1.65},{"p":"f2","g":"MI","o":3,"x":-9.1,"y":-6.05},
  {"p":"f2","g":"Drug","o":0,"x":-7.5,"y":-0.45},{"p":"f2","g":"Drug","o":1,"x":-3.65,"y":4.45},{"p":"f2","g":"Drug","o":2,"x":0.2,"y":6.15},{"p":"f2","g":"Drug","o":3,"x":-3.65,"y":1.25},
  {"p":"f2","g":"SFSBP","o":0,"x":-1.05,"y":4.75},{"p":"f2","g":"SFSBP","o":1,"x":2.1,"y":6.85},{"p":"f2","g":"SFSBP","o":2,"x":5.3,"y":4.75},{"p":"f2","g":"SFSBP","o":3,"x":2.1,"y":2.5},
  {"p":"f2","g":"Sham","o":0,"x":4.85,"y":-2.6},{"p":"f2","g":"Sham","o":1,"x":9.25,"y":-1.2},{"p":"f2","g":"Sham","o":2,"x":13.65,"y":-4.9},{"p":"f2","g":"Sham","o":3,"x":9.25,"y":-6.05},

  {"p":"g1","g":"T2","o":0,"x":-23.7,"y":0},{"p":"g1","g":"T2","o":1,"x":0,"y":10.6},{"p":"g1","g":"T2","o":2,"x":23.7,"y":0},{"p":"g1","g":"T2","o":3,"x":0,"y":-10.5},
  {"p":"g1","g":"MI","o":0,"x":-17.0,"y":-2.5},{"p":"g1","g":"MI","o":1,"x":-13.5,"y":1.0},{"p":"g1","g":"MI","o":2,"x":-10.0,"y":1.5},{"p":"g1","g":"MI","o":3,"x":-13.5,"y":-3.5},
  {"p":"g1","g":"Drug","o":0,"x":-11.8,"y":1.8},{"p":"g1","g":"Drug","o":1,"x":-8.8,"y":3.5},{"p":"g1","g":"Drug","o":2,"x":-5.8,"y":1.8},{"p":"g1","g":"Drug","o":3,"x":-8.8,"y":0.0},
  {"p":"g1","g":"SFSBP","o":0,"x":3.5,"y":4.3},{"p":"g1","g":"SFSBP","o":1,"x":6.5,"y":7.3},{"p":"g1","g":"SFSBP","o":2,"x":9.5,"y":4.3},{"p":"g1","g":"SFSBP","o":3,"x":6.5,"y":1.3},
  {"p":"g1","g":"Sham","o":0,"x":4.5,"y":-3.0},{"p":"g1","g":"Sham","o":1,"x":8.5,"y":-1.0},{"p":"g1","g":"Sham","o":2,"x":12.5,"y":-7.0},{"p":"g1","g":"Sham","o":3,"x":8.5,"y":-9.0},

  {"p":"g2","g":"T2","o":0,"x":-19.7,"y":0},{"p":"g2","g":"T2","o":1,"x":0,"y":10.3},{"p":"g2","g":"T2","o":2,"x":19.7,"y":0},{"p":"g2","g":"T2","o":3,"x":0,"y":-10.3},
  {"p":"g2","g":"MI","o":0,"x":-15.0,"y":-5.6},{"p":"g2","g":"MI","o":1,"x":-10.0,"y":-2.0},{"p":"g2","g":"MI","o":2,"x":-5.0,"y":-2.0},{"p":"g2","g":"MI","o":3,"x":-10.0,"y":-6.3},
  {"p":"g2","g":"Drug","o":0,"x":-8.0,"y":2.5},{"p":"g2","g":"Drug","o":1,"x":-1.5,"y":5.3},{"p":"g2","g":"Drug","o":2,"x":5.0,"y":4.5},{"p":"g2","g":"Drug","o":3,"x":-1.5,"y":1.3},
  {"p":"g2","g":"SFSBP","o":0,"x":-0.5,"y":4.0},{"p":"g2","g":"SFSBP","o":1,"x":2.0,"y":5.8},{"p":"g2","g":"SFSBP","o":2,"x":4.5,"y":4.0},{"p":"g2","g":"SFSBP","o":3,"x":2.0,"y":2.3},
  {"p":"g2","g":"Sham","o":0,"x":4.7,"y":-2.6},{"p":"g2","g":"Sham","o":1,"x":9.0,"y":-1.2},{"p":"g2","g":"Sham","o":2,"x":13.3,"y":-5.2},{"p":"g2","g":"Sham","o":3,"x":9.0,"y":-6.5}
 ],
 "lab": [
  {"p":"a1","g":"Drug","x":-10.2,"y":4.6,"t":"Ginsenoside Re"},{"p":"a1","g":"MI","x":-17.2,"y":-2.9,"t":"MI"},{"p":"a1","g":"SFSBP","x":12.9,"y":-4.1,"t":"SFSBP"},{"p":"a1","g":"Sham","x":15.2,"y":4.2,"t":"Sham"},
  {"p":"a2","g":"Drug","x":-10.1,"y":5.1,"t":"Ginsenoside Re"},{"p":"a2","g":"MI","x":-14.7,"y":-2.4,"t":"MI"},{"p":"a2","g":"SFSBP","x":8.4,"y":5.9,"t":"SFSBP"},{"p":"a2","g":"Sham","x":15.5,"y":-1.7,"t":"Sham"},
  {"p":"b1","g":"Drug","x":-13.3,"y":8.85,"t":"Ginsenoside Rb1"},{"p":"b1","g":"MI","x":-12.7,"y":-7.0,"t":"MI"},{"p":"b1","g":"SFSBP","x":12.1,"y":5.85,"t":"SFSBP"},{"p":"b1","g":"Sham","x":15.1,"y":-3.0,"t":"Sham"},
  {"p":"b2","g":"Drug","x":-10.6,"y":8.4,"t":"Ginsenoside Rb1"},{"p":"b2","g":"MI","x":-14.15,"y":-1.55,"t":"MI"},{"p":"b2","g":"SFSBP","x":7.4,"y":6.35,"t":"SFSBP"},{"p":"b2","g":"Sham","x":14.3,"y":-1.55,"t":"Sham"},
  {"p":"c1","g":"Drug","x":-7.5,"y":8.1,"t":"Muscone"},{"p":"c1","g":"MI","x":-16.2,"y":-5.6,"t":"MI"},{"p":"c1","g":"SFSBP","x":13.8,"y":4.4,"t":"SFSBP"},{"p":"c1","g":"Sham","x":14.7,"y":-4.3,"t":"Sham"},
  {"p":"c2","g":"Drug","x":-7.5,"y":5.9,"t":"Muscone"},{"p":"c2","g":"MI","x":-14.45,"y":-2.7,"t":"MI"},{"p":"c2","g":"SFSBP","x":7.55,"y":6.3,"t":"SFSBP"},{"p":"c2","g":"Sham","x":14.8,"y":-2.4,"t":"Sham"},
  {"p":"d1","g":"Drug","x":-13.9,"y":8.85,"t":"Cinnamic acid"},{"p":"d1","g":"MI","x":-19.2,"y":-2.4,"t":"MI"},{"p":"d1","g":"SFSBP","x":13.45,"y":4.6,"t":"SFSBP"},{"p":"d1","g":"Sham","x":17.0,"y":-3.7,"t":"Sham"},
  {"p":"d2","g":"Drug","x":-10.0,"y":5.8,"t":"Cinnamic acid"},{"p":"d2","g":"MI","x":-14.5,"y":-1.4,"t":"MI"},{"p":"d2","g":"SFSBP","x":7.55,"y":6.6,"t":"SFSBP"},{"p":"d2","g":"Sham","x":14.35,"y":-2.25,"t":"Sham"},
  {"p":"e1","g":"Drug","x":-8.0,"y":7.1,"t":"Cholic acid"},{"p":"e1","g":"MI","x":-18.3,"y":-2.0,"t":"MI"},{"p":"e1","g":"SFSBP","x":15.65,"y":3.85,"t":"SFSBP"},{"p":"e1","g":"Sham","x":16.0,"y":-3.4,"t":"Sham"},
  {"p":"e2","g":"Drug","x":-11.0,"y":7.35,"t":"Cholic acid"},{"p":"e2","g":"MI","x":-16.2,"y":-1.0,"t":"MI"},{"p":"e2","g":"SFSBP","x":7.7,"y":7.35,"t":"SFSBP"},{"p":"e2","g":"Sham","x":14.1,"y":-2.15,"t":"Sham"},
  {"p":"f1","g":"Drug","x":-5.95,"y":4.25,"t":"Bufalin"},{"p":"f1","g":"MI","x":-20.1,"y":-2.1,"t":"MI"},{"p":"f1","g":"SFSBP","x":13.35,"y":4.9,"t":"SFSBP"},{"p":"f1","g":"Sham","x":14.65,"y":-3.3,"t":"Sham"},
  {"p":"f2","g":"Drug","x":-8.7,"y":5.3,"t":"Bufalin"},{"p":"f2","g":"MI","x":-14.35,"y":-2.95,"t":"MI"},{"p":"f2","g":"SFSBP","x":8.65,"y":6.25,"t":"SFSBP"},{"p":"f2","g":"Sham","x":15.5,"y":-1.9,"t":"Sham"},
  {"p":"g1","g":"Drug","x":-6.5,"y":5.5,"t":"Borneol"},{"p":"g1","g":"MI","x":-22.0,"y":0.8,"t":"MI"},{"p":"g1","g":"SFSBP","x":10.5,"y":3.5,"t":"SFSBP"},{"p":"g1","g":"Sham","x":11.5,"y":-3.0,"t":"Sham"},
  {"p":"g2","g":"Drug","x":-9.4,"y":5.0,"t":"Borneol"},{"p":"g2","g":"MI","x":-14.5,"y":-2.8,"t":"MI"},{"p":"g2","g":"SFSBP","x":3.0,"y":7.2,"t":"SFSBP"},{"p":"g2","g":"Sham","x":14.5,"y":-2.5,"t":"Sham"}
 ]
},
"vconcat": [
 {"title": {"text": "( a )", "fontSize": 15, "offset": 24},
  "spacing": 9,
  "vconcat": [
  {"spacing": 15, "vconcat": [
   {"spacing": 3, "hconcat": [
    {"width": 226, "height": 110, "title": {"text": "(a1)"}, "layer": [
     {"data": {"values": [{}]}, "mark": {"type": "rule", "color": "#555", "strokeWidth": 1.3}, "encoding": {"x": {"datum": 0}}},
     {"data": {"values": [{}]}, "mark": {"type": "rule", "color": "#555", "strokeWidth": 1.3}, "encoding": {"y": {"datum": 0}}},
     {"data": {"name": "ell"}, "transform": [{"filter": "datum.p == 'a1'"}], "mark": {"type": "line", "interpolate": "cardinal-closed", "tension": -0.657, "strokeWidth": 1}, "encoding": {
       "x": {"field": "x", "type": "quantitative", "scale": {"domain": [-26.4, 26.2], "nice": false, "zero": false}, "axis": {"title": "t[1]", "tickCount": 40, "format": "d", "values": [-25,-22.5,-20,-17.5,-15,-12.5,-10,-7.5,-5,-2.5,0,2.5,5,7.5,10,12.5,15,17.5,20,22.5,25], "labelExpr": "datum.value % 10 ? '' : datum.label"}},
       "y": {"field": "y", "type": "quantitative", "scale": {"domain": [-10.6, 10.6], "nice": false, "zero": false}, "axis": {"title": "t[2]", "tickCount": 40, "format": "d", "values": [-10,-7.5,-5,-2.5,0,2.5,5,7.5,10], "labelExpr": "datum.value % 5 ? '' : datum.label"}},
       "color": {"field": "g", "type": "nominal"}, "order": {"field": "o", "type": "quantitative"}}},
     {"data": {"name": "pts"}, "transform": [{"filter": "datum.p == 'a1'"}], "mark": {"type": "point"}, "encoding": {"x": {"field": "x", "type": "quantitative"}, "y": {"field": "y", "type": "quantitative"}, "color": {"field": "g", "type": "nominal"}, "shape": {"field": "g", "type": "nominal"}}},
     {"data": {"name": "lab"}, "transform": [{"filter": "datum.p == 'a1'"}], "mark": {"type": "text"}, "encoding": {"x": {"field": "x", "type": "quantitative"}, "y": {"field": "y", "type": "quantitative"}, "text": {"field": "t"}, "color": {"field": "g", "type": "nominal"}}}
    ]},
    {"width": 226, "height": 110, "title": {"text": "(a2)"}, "layer": [
     {"data": {"values": [{}]}, "mark": {"type": "rule", "color": "#555", "strokeWidth": 1.3}, "encoding": {"x": {"datum": 0}}},
     {"data": {"values": [{}]}, "mark": {"type": "rule", "color": "#555", "strokeWidth": 1.3}, "encoding": {"y": {"datum": 0}}},
     {"data": {"name": "ell"}, "transform": [{"filter": "datum.p == 'a2'"}], "mark": {"type": "line", "interpolate": "cardinal-closed", "tension": -0.657, "strokeWidth": 1}, "encoding": {
       "x": {"field": "x", "type": "quantitative", "scale": {"domain": [-21.6, 21.6], "nice": false, "zero": false}, "axis": {"title": "t[1]", "tickCount": 40, "format": "d", "values": [-20,-17.5,-15,-12.5,-10,-7.5,-5,-2.5,0,2.5,5,7.5,10,12.5,15,17.5,20], "labelExpr": "datum.value % 10 ? '' : datum.label"}},
       "y": {"field": "y", "type": "quantitative", "scale": {"domain": [-11.1, 11.1], "nice": false, "zero": false}, "axis": {"title": "t[2]", "tickCount": 40, "format": "d", "values": [-10,-7.5,-5,-2.5,0,2.5,5,7.5,10], "labelExpr": "datum.value % 5 ? '' : datum.label"}},
       "color": {"field": "g", "type": "nominal"}, "order": {"field": "o", "type": "quantitative"}}},
     {"data": {"name": "pts"}, "transform": [{"filter": "datum.p == 'a2'"}], "mark": {"type": "point"}, "encoding": {"x": {"field": "x", "type": "quantitative"}, "y": {"field": "y", "type": "quantitative"}, "color": {"field": "g", "type": "nominal"}, "shape": {"condition": {"test": "datum.g == 'Drug'", "value": "triangle-up"}, "field": "g", "type": "nominal"}, "size": {"condition": {"test": "datum.g == 'Drug'", "value": 50}, "value": 30}}},
     {"data": {"name": "lab"}, "transform": [{"filter": "datum.p == 'a2'"}], "mark": {"type": "text"}, "encoding": {"x": {"field": "x", "type": "quantitative"}, "y": {"field": "y", "type": "quantitative"}, "text": {"field": "t"}, "color": {"field": "g", "type": "nominal"}}}
    ]}
   ]},
   {"spacing": 3, "hconcat": [
    {"width": 226, "height": 107, "title": {"text": "(b1)"}, "layer": [
     {"data": {"values": [{}]}, "mark": {"type": "rule", "color": "#555", "strokeWidth": 1.3}, "encoding": {"x": {"datum": 0}}},
     {"data": {"values": [{}]}, "mark": {"type": "rule", "color": "#555", "strokeWidth": 1.3}, "encoding": {"y": {"datum": 0}}},
     {"data": {"name": "ell"}, "transform": [{"filter": "datum.p == 'b1'"}], "mark": {"type": "line", "interpolate": "cardinal-closed", "tension": -0.657, "strokeWidth": 1}, "encoding": {
       "x": {"field": "x", "type": "quantitative", "scale": {"domain": [-26.1, 25.6], "nice": false, "zero": false}, "axis": {"title": "t[1]", "tickCount": 40, "format": "d", "values": [-25,-22.5,-20,-17.5,-15,-12.5,-10,-7.5,-5,-2.5,0,2.5,5,7.5,10,12.5,15,17.5,20,22.5,25], "labelExpr": "datum.value % 10 ? '' : datum.label"}},
       "y": {"field": "y", "type": "quantitative", "scale": {"domain": [-12.7, 12.7], "nice": false, "zero": false}, "axis": {"title": "t[2]", "tickCount": 40, "format": "d", "values": [-10,-7.5,-5,-2.5,0,2.5,5,7.5,10], "labelExpr": "datum.value % 5 ? '' : datum.label"}},
       "color": {"field": "g", "type": "nominal"}, "order": {"field": "o", "type": "quantitative"}}},
     {"data": {"name": "pts"}, "transform": [{"filter": "datum.p == 'b1'"}], "mark": {"type": "point"}, "encoding": {"x": {"field": "x", "type": "quantitative"}, "y": {"field": "y", "type": "quantitative"}, "color": {"field": "g", "type": "nominal"}, "shape": {"field": "g", "type": "nominal"}}},
     {"data": {"name": "lab"}, "transform": [{"filter": "datum.p == 'b1'"}], "mark": {"type": "text"}, "encoding": {"x": {"field": "x", "type": "quantitative"}, "y": {"field": "y", "type": "quantitative"}, "text": {"field": "t"}, "color": {"field": "g", "type": "nominal"}}}
    ]},
    {"width": 226, "height": 107, "title": {"text": "(b2)"}, "layer": [
     {"data": {"values": [{}]}, "mark": {"type": "rule", "color": "#555", "strokeWidth": 1.3}, "encoding": {"x": {"datum": 0}}},
     {"data": {"values": [{}]}, "mark": {"type": "rule", "color": "#555", "strokeWidth": 1.3}, "encoding": {"y": {"datum": 0}}},
     {"data": {"name": "ell"}, "transform": [{"filter": "datum.p == 'b2'"}], "mark": {"type": "line", "interpolate": "cardinal-closed", "tension": -0.657, "strokeWidth": 1}, "encoding": {
       "x": {"field": "x", "type": "quantitative", "scale": {"domain": [-21.2, 21.5], "nice": false, "zero": false}, "axis": {"title": "t[1]", "tickCount": 40, "format": "d", "values": [-20,-17.5,-15,-12.5,-10,-7.5,-5,-2.5,0,2.5,5,7.5,10,12.5,15,17.5,20], "labelExpr": "datum.value % 10 ? '' : datum.label"}},
       "y": {"field": "y", "type": "quantitative", "scale": {"domain": [-12.6, 12.4], "nice": false, "zero": false}, "axis": {"title": "t[2]", "tickCount": 40, "format": "d", "values": [-10,-7.5,-5,-2.5,0,2.5,5,7.5,10], "labelExpr": "datum.value % 5 ? '' : datum.label"}},
       "color": {"field": "g", "type": "nominal"}, "order": {"field": "o", "type": "quantitative"}}},
     {"data": {"name": "pts"}, "transform": [{"filter": "datum.p == 'b2'"}], "mark": {"type": "point"}, "encoding": {"x": {"field": "x", "type": "quantitative"}, "y": {"field": "y", "type": "quantitative"}, "color": {"field": "g", "type": "nominal"}, "shape": {"field": "g", "type": "nominal"}}},
     {"data": {"name": "lab"}, "transform": [{"filter": "datum.p == 'b2'"}], "mark": {"type": "text"}, "encoding": {"x": {"field": "x", "type": "quantitative"}, "y": {"field": "y", "type": "quantitative"}, "text": {"field": "t"}, "color": {"field": "g", "type": "nominal"}}}
    ]}
   ]},
   {"spacing": 3, "hconcat": [
    {"width": 226, "height": 107, "title": {"text": "(c1)"}, "layer": [
     {"data": {"values": [{}]}, "mark": {"type": "rule", "color": "#555", "strokeWidth": 1.3}, "encoding": {"x": {"datum": 0}}},
     {"data": {"values": [{}]}, "mark": {"type": "rule", "color": "#555", "strokeWidth": 1.3}, "encoding": {"y": {"datum": 0}}},
     {"data": {"name": "ell"}, "transform": [{"filter": "datum.p == 'c1'"}], "mark": {"type": "line", "interpolate": "cardinal-closed", "tension": -0.657, "strokeWidth": 1}, "encoding": {
       "x": {"field": "x", "type": "quantitative", "scale": {"domain": [-26.0, 25.6], "nice": false, "zero": false}, "axis": {"title": "t[1]", "tickCount": 40, "format": "d", "values": [-25,-22.5,-20,-17.5,-15,-12.5,-10,-7.5,-5,-2.5,0,2.5,5,7.5,10,12.5,15,17.5,20,22.5,25], "labelExpr": "datum.value % 10 ? '' : datum.label"}},
       "y": {"field": "y", "type": "quantitative", "scale": {"domain": [-11.6, 11.7], "nice": false, "zero": false}, "axis": {"title": "t[2]", "tickCount": 40, "format": "d", "values": [-10,-7.5,-5,-2.5,0,2.5,5,7.5,10], "labelExpr": "datum.value % 5 ? '' : datum.label"}},
       "color": {"field": "g", "type": "nominal"}, "order": {"field": "o", "type": "quantitative"}}},
     {"data": {"name": "pts"}, "transform": [{"filter": "datum.p == 'c1'"}], "mark": {"type": "point"}, "encoding": {"x": {"field": "x", "type": "quantitative"}, "y": {"field": "y", "type": "quantitative"}, "color": {"field": "g", "type": "nominal"}, "shape": {"field": "g", "type": "nominal"}}},
     {"data": {"name": "lab"}, "transform": [{"filter": "datum.p == 'c1'"}], "mark": {"type": "text"}, "encoding": {"x": {"field": "x", "type": "quantitative"}, "y": {"field": "y", "type": "quantitative"}, "text": {"field": "t"}, "color": {"field": "g", "type": "nominal"}}}
    ]},
    {"width": 226, "height": 107, "title": {"text": "(c2)"}, "layer": [
     {"data": {"values": [{}]}, "mark": {"type": "rule", "color": "#555", "strokeWidth": 1.3}, "encoding": {"x": {"datum": 0}}},
     {"data": {"values": [{}]}, "mark": {"type": "rule", "color": "#555", "strokeWidth": 1.3}, "encoding": {"y": {"datum": 0}}},
     {"data": {"name": "ell"}, "transform": [{"filter": "datum.p == 'c2'"}], "mark": {"type": "line", "interpolate": "cardinal-closed", "tension": -0.657, "strokeWidth": 1}, "encoding": {
       "x": {"field": "x", "type": "quantitative", "scale": {"domain": [-21.3, 21.2], "nice": false, "zero": false}, "axis": {"title": "t[1]", "tickCount": 40, "format": "d", "values": [-20,-17.5,-15,-12.5,-10,-7.5,-5,-2.5,0,2.5,5,7.5,10,12.5,15,17.5,20], "labelExpr": "datum.value % 10 ? '' : datum.label"}},
       "y": {"field": "y", "type": "quantitative", "scale": {"domain": [-11.7, 11.5], "nice": false, "zero": false}, "axis": {"title": "t[2]", "tickCount": 40, "format": "d", "values": [-10,-7.5,-5,-2.5,0,2.5,5,7.5,10], "labelExpr": "datum.value % 5 ? '' : datum.label"}},
       "color": {"field": "g", "type": "nominal"}, "order": {"field": "o", "type": "quantitative"}}},
     {"data": {"name": "pts"}, "transform": [{"filter": "datum.p == 'c2'"}], "mark": {"type": "point"}, "encoding": {"x": {"field": "x", "type": "quantitative"}, "y": {"field": "y", "type": "quantitative"}, "color": {"field": "g", "type": "nominal"}, "shape": {"field": "g", "type": "nominal"}}},
     {"data": {"name": "lab"}, "transform": [{"filter": "datum.p == 'c2'"}], "mark": {"type": "text"}, "encoding": {"x": {"field": "x", "type": "quantitative"}, "y": {"field": "y", "type": "quantitative"}, "text": {"field": "t"}, "color": {"field": "g", "type": "nominal"}}}
    ]}
   ]}
  ]},
  {"spacing": 4, "vconcat": [
   {"spacing": 3, "hconcat": [
    {"width": 226, "height": 107, "title": {"text": "(d1)"}, "layer": [
     {"data": {"values": [{}]}, "mark": {"type": "rule", "color": "#555", "strokeWidth": 1.3}, "encoding": {"x": {"datum": 0}}},
     {"data": {"values": [{}]}, "mark": {"type": "rule", "color": "#555", "strokeWidth": 1.3}, "encoding": {"y": {"datum": 0}}},
     {"data": {"name": "ell"}, "transform": [{"filter": "datum.p == 'd1'"}], "mark": {"type": "line", "interpolate": "cardinal-closed", "tension": -0.657, "strokeWidth": 1}, "encoding": {
       "x": {"field": "x", "type": "quantitative", "scale": {"domain": [-26.0, 25.6], "nice": false, "zero": false}, "axis": {"title": "t[1]", "tickCount": 40, "format": "d", "values": [-25,-22.5,-20,-17.5,-15,-12.5,-10,-7.5,-5,-2.5,0,2.5,5,7.5,10,12.5,15,17.5,20,22.5,25], "labelExpr": "datum.value % 10 ? '' : datum.label"}},
       "y": {"field": "y", "type": "quantitative", "scale": {"domain": [-12.2, 12.5], "nice": false, "zero": false}, "axis": {"title": "t[2]", "tickCount": 40, "format": "d", "values": [-10,-7.5,-5,-2.5,0,2.5,5,7.5,10], "labelExpr": "datum.value % 5 ? '' : datum.label"}},
       "color": {"field": "g", "type": "nominal"}, "order": {"field": "o", "type": "quantitative"}}},
     {"data": {"name": "pts"}, "transform": [{"filter": "datum.p == 'd1'"}], "mark": {"type": "point"}, "encoding": {"x": {"field": "x", "type": "quantitative"}, "y": {"field": "y", "type": "quantitative"}, "color": {"field": "g", "type": "nominal"}, "shape": {"field": "g", "type": "nominal"}}},
     {"data": {"name": "lab"}, "transform": [{"filter": "datum.p == 'd1'"}], "mark": {"type": "text"}, "encoding": {"x": {"field": "x", "type": "quantitative"}, "y": {"field": "y", "type": "quantitative"}, "text": {"field": "t"}, "color": {"field": "g", "type": "nominal"}}}
    ]},
    {"width": 226, "height": 107, "title": {"text": "(d2)"}, "layer": [
     {"data": {"values": [{}]}, "mark": {"type": "rule", "color": "#555", "strokeWidth": 1.3}, "encoding": {"x": {"datum": 0}}},
     {"data": {"values": [{}]}, "mark": {"type": "rule", "color": "#555", "strokeWidth": 1.3}, "encoding": {"y": {"datum": 0}}},
     {"data": {"name": "ell"}, "transform": [{"filter": "datum.p == 'd2'"}], "mark": {"type": "line", "interpolate": "cardinal-closed", "tension": -0.657, "strokeWidth": 1}, "encoding": {
       "x": {"field": "x", "type": "quantitative", "scale": {"domain": [-21.8, 21.6], "nice": false, "zero": false}, "axis": {"title": "t[1]", "tickCount": 40, "format": "d", "values": [-20,-17.5,-15,-12.5,-10,-7.5,-5,-2.5,0,2.5,5,7.5,10,12.5,15,17.5,20], "labelExpr": "datum.value % 10 ? '' : datum.label"}},
       "y": {"field": "y", "type": "quantitative", "scale": {"domain": [-11.5, 11.3], "nice": false, "zero": false}, "axis": {"title": "t[2]", "tickCount": 40, "format": "d", "values": [-10,-7.5,-5,-2.5,0,2.5,5,7.5,10], "labelExpr": "datum.value % 5 ? '' : datum.label"}},
       "color": {"field": "g", "type": "nominal"}, "order": {"field": "o", "type": "quantitative"}}},
     {"data": {"name": "pts"}, "transform": [{"filter": "datum.p == 'd2'"}], "mark": {"type": "point"}, "encoding": {"x": {"field": "x", "type": "quantitative"}, "y": {"field": "y", "type": "quantitative"}, "color": {"field": "g", "type": "nominal"}, "shape": {"field": "g", "type": "nominal"}}},
     {"data": {"name": "lab"}, "transform": [{"filter": "datum.p == 'd2'"}], "mark": {"type": "text"}, "encoding": {"x": {"field": "x", "type": "quantitative"}, "y": {"field": "y", "type": "quantitative"}, "text": {"field": "t"}, "color": {"field": "g", "type": "nominal"}}}
    ]}
   ]},
   {"spacing": 3, "hconcat": [
    {"width": 226, "height": 107, "title": {"text": "(e1)"}, "layer": [
     {"data": {"values": [{}]}, "mark": {"type": "rule", "color": "#555", "strokeWidth": 1.3}, "encoding": {"x": {"datum": 0}}},
     {"data": {"values": [{}]}, "mark": {"type": "rule", "color": "#555", "strokeWidth": 1.3}, "encoding": {"y": {"datum": 0}}},
     {"data": {"name": "ell"}, "transform": [{"filter": "datum.p == 'e1'"}], "mark": {"type": "line", "interpolate": "cardinal-closed", "tension": -0.657, "strokeWidth": 1}, "encoding": {
       "x": {"field": "x", "type": "quantitative", "scale": {"domain": [-26.1, 25.6], "nice": false, "zero": false}, "axis": {"title": "t[1]", "tickCount": 40, "format": "d", "values": [-25,-22.5,-20,-17.5,-15,-12.5,-10,-7.5,-5,-2.5,0,2.5,5,7.5,10,12.5,15,17.5,20,22.5,25], "labelExpr": "datum.value % 10 ? '' : datum.label"}},
       "y": {"field": "y", "type": "quantitative", "scale": {"domain": [-11.2, 11.5], "nice": false, "zero": false}, "axis": {"title": "t[2]", "tickCount": 40, "format": "d", "values": [-10,-7.5,-5,-2.5,0,2.5,5,7.5,10], "labelExpr": "datum.value % 5 ? '' : datum.label"}},
       "color": {"field": "g", "type": "nominal"}, "order": {"field": "o", "type": "quantitative"}}},
     {"data": {"name": "pts"}, "transform": [{"filter": "datum.p == 'e1'"}], "mark": {"type": "point"}, "encoding": {"x": {"field": "x", "type": "quantitative"}, "y": {"field": "y", "type": "quantitative"}, "color": {"field": "g", "type": "nominal"}, "shape": {"field": "g", "type": "nominal"}}},
     {"data": {"name": "lab"}, "transform": [{"filter": "datum.p == 'e1'"}], "mark": {"type": "text"}, "encoding": {"x": {"field": "x", "type": "quantitative"}, "y": {"field": "y", "type": "quantitative"}, "text": {"field": "t"}, "color": {"field": "g", "type": "nominal"}}}
    ]},
    {"width": 226, "height": 107, "title": {"text": "(e2)"}, "layer": [
     {"data": {"values": [{}]}, "mark": {"type": "rule", "color": "#555", "strokeWidth": 1.3}, "encoding": {"x": {"datum": 0}}},
     {"data": {"values": [{}]}, "mark": {"type": "rule", "color": "#555", "strokeWidth": 1.3}, "encoding": {"y": {"datum": 0}}},
     {"data": {"name": "ell"}, "transform": [{"filter": "datum.p == 'e2'"}], "mark": {"type": "line", "interpolate": "cardinal-closed", "tension": -0.657, "strokeWidth": 1}, "encoding": {
       "x": {"field": "x", "type": "quantitative", "scale": {"domain": [-21.6, 21.0], "nice": false, "zero": false}, "axis": {"title": "t[1]", "tickCount": 40, "format": "d", "values": [-20,-17.5,-15,-12.5,-10,-7.5,-5,-2.5,0,2.5,5,7.5,10,12.5,15,17.5,20], "labelExpr": "datum.value % 10 ? '' : datum.label"}},
       "y": {"field": "y", "type": "quantitative", "scale": {"domain": [-11.5, 11.5], "nice": false, "zero": false}, "axis": {"title": "t[2]", "tickCount": 40, "format": "d", "values": [-10,-7.5,-5,-2.5,0,2.5,5,7.5,10], "labelExpr": "datum.value % 5 ? '' : datum.label"}},
       "color": {"field": "g", "type": "nominal"}, "order": {"field": "o", "type": "quantitative"}}},
     {"data": {"name": "pts"}, "transform": [{"filter": "datum.p == 'e2'"}], "mark": {"type": "point"}, "encoding": {"x": {"field": "x", "type": "quantitative"}, "y": {"field": "y", "type": "quantitative"}, "color": {"field": "g", "type": "nominal"}, "shape": {"field": "g", "type": "nominal"}}},
     {"data": {"name": "lab"}, "transform": [{"filter": "datum.p == 'e2'"}], "mark": {"type": "text"}, "encoding": {"x": {"field": "x", "type": "quantitative"}, "y": {"field": "y", "type": "quantitative"}, "text": {"field": "t"}, "color": {"field": "g", "type": "nominal"}}}
    ]}
   ]},
   {"spacing": 3, "hconcat": [
    {"width": 226, "height": 106, "title": {"text": "(f1)"}, "layer": [
     {"data": {"values": [{}]}, "mark": {"type": "rule", "color": "#555", "strokeWidth": 1.3}, "encoding": {"x": {"datum": 0}}},
     {"data": {"values": [{}]}, "mark": {"type": "rule", "color": "#555", "strokeWidth": 1.3}, "encoding": {"y": {"datum": 0}}},
     {"data": {"name": "ell"}, "transform": [{"filter": "datum.p == 'f1'"}], "mark": {"type": "line", "interpolate": "cardinal-closed", "tension": -0.657, "strokeWidth": 1}, "encoding": {
       "x": {"field": "x", "type": "quantitative", "scale": {"domain": [-25.8, 25.5], "nice": false, "zero": false}, "axis": {"title": "t[1]", "tickCount": 40, "format": "d", "values": [-25,-22.5,-20,-17.5,-15,-12.5,-10,-7.5,-5,-2.5,0,2.5,5,7.5,10,12.5,15,17.5,20,22.5,25], "labelExpr": "datum.value % 10 ? '' : datum.label"}},
       "y": {"field": "y", "type": "quantitative", "scale": {"domain": [-10.5, 10.4], "nice": false, "zero": false}, "axis": {"title": "t[2]", "tickCount": 40, "format": "d", "values": [-10,-7.5,-5,-2.5,0,2.5,5,7.5,10], "labelExpr": "datum.value % 5 ? '' : datum.label"}},
       "color": {"field": "g", "type": "nominal"}, "order": {"field": "o", "type": "quantitative"}}},
     {"data": {"name": "pts"}, "transform": [{"filter": "datum.p == 'f1'"}], "mark": {"type": "point"}, "encoding": {"x": {"field": "x", "type": "quantitative"}, "y": {"field": "y", "type": "quantitative"}, "color": {"field": "g", "type": "nominal"}, "shape": {"field": "g", "type": "nominal"}}},
     {"data": {"name": "lab"}, "transform": [{"filter": "datum.p == 'f1'"}], "mark": {"type": "text"}, "encoding": {"x": {"field": "x", "type": "quantitative"}, "y": {"field": "y", "type": "quantitative"}, "text": {"field": "t"}, "color": {"field": "g", "type": "nominal"}}}
    ]},
    {"width": 226, "height": 107, "title": {"text": "(f2)"}, "layer": [
     {"data": {"values": [{}]}, "mark": {"type": "rule", "color": "#555", "strokeWidth": 1.3}, "encoding": {"x": {"datum": 0}}},
     {"data": {"values": [{}]}, "mark": {"type": "rule", "color": "#555", "strokeWidth": 1.3}, "encoding": {"y": {"datum": 0}}},
     {"data": {"name": "ell"}, "transform": [{"filter": "datum.p == 'f2'"}], "mark": {"type": "line", "interpolate": "cardinal-closed", "tension": -0.657, "strokeWidth": 1}, "encoding": {
       "x": {"field": "x", "type": "quantitative", "scale": {"domain": [-21.6, 21.6], "nice": false, "zero": false}, "axis": {"title": "t[1]", "tickCount": 40, "format": "d", "values": [-20,-17.5,-15,-12.5,-10,-7.5,-5,-2.5,0,2.5,5,7.5,10,12.5,15,17.5,20], "labelExpr": "datum.value % 10 ? '' : datum.label"}},
       "y": {"field": "y", "type": "quantitative", "scale": {"domain": [-11.5, 10.8], "nice": false, "zero": false}, "axis": {"title": "t[2]", "tickCount": 40, "format": "d", "values": [-10,-7.5,-5,-2.5,0,2.5,5,7.5,10], "labelExpr": "datum.value % 5 ? '' : datum.label"}},
       "color": {"field": "g", "type": "nominal"}, "order": {"field": "o", "type": "quantitative"}}},
     {"data": {"name": "pts"}, "transform": [{"filter": "datum.p == 'f2'"}], "mark": {"type": "point"}, "encoding": {"x": {"field": "x", "type": "quantitative"}, "y": {"field": "y", "type": "quantitative"}, "color": {"field": "g", "type": "nominal"}, "shape": {"field": "g", "type": "nominal"}}},
     {"data": {"name": "lab"}, "transform": [{"filter": "datum.p == 'f2'"}], "mark": {"type": "text"}, "encoding": {"x": {"field": "x", "type": "quantitative"}, "y": {"field": "y", "type": "quantitative"}, "text": {"field": "t"}, "color": {"field": "g", "type": "nominal"}}}
    ]}
   ]}
  ]}
 ]},
 {"title": {"text": "( b )", "fontSize": 15, "offset": 38},
  "spacing": 3,
  "hconcat": [
    {"width": 226, "height": 107, "title": {"text": "(g1)"}, "layer": [
     {"data": {"values": [{}]}, "mark": {"type": "rule", "color": "#555", "strokeWidth": 1.3}, "encoding": {"x": {"datum": 0}}},
     {"data": {"values": [{}]}, "mark": {"type": "rule", "color": "#555", "strokeWidth": 1.3}, "encoding": {"y": {"datum": 0}}},
     {"data": {"name": "ell"}, "transform": [{"filter": "datum.p == 'g1'"}], "mark": {"type": "line", "interpolate": "cardinal-closed", "tension": -0.657, "strokeWidth": 1}, "encoding": {
       "x": {"field": "x", "type": "quantitative", "scale": {"domain": [-26.0, 25.6], "nice": false, "zero": false}, "axis": {"title": "t[1]", "tickCount": 40, "format": "d", "values": [-25,-22.5,-20,-17.5,-15,-12.5,-10,-7.5,-5,-2.5,0,2.5,5,7.5,10,12.5,15,17.5,20,22.5,25], "labelExpr": "datum.value % 10 ? '' : datum.label"}},
       "y": {"field": "y", "type": "quantitative", "scale": {"domain": [-12.2, 12.4], "nice": false, "zero": false}, "axis": {"title": "t[2]", "tickCount": 40, "format": "d", "values": [-10,-7.5,-5,-2.5,0,2.5,5,7.5,10], "labelExpr": "datum.value % 5 ? '' : datum.label"}},
       "color": {"field": "g", "type": "nominal"}, "order": {"field": "o", "type": "quantitative"}}},
     {"data": {"name": "pts"}, "transform": [{"filter": "datum.p == 'g1'"}], "mark": {"type": "point"}, "encoding": {"x": {"field": "x", "type": "quantitative"}, "y": {"field": "y", "type": "quantitative"}, "color": {"field": "g", "type": "nominal"}, "shape": {"field": "g", "type": "nominal"}}},
     {"data": {"name": "lab"}, "transform": [{"filter": "datum.p == 'g1'"}], "mark": {"type": "text"}, "encoding": {"x": {"field": "x", "type": "quantitative"}, "y": {"field": "y", "type": "quantitative"}, "text": {"field": "t"}, "color": {"field": "g", "type": "nominal"}}}
    ]},
    {"width": 226, "height": 107, "title": {"text": "(g2)"}, "layer": [
     {"data": {"values": [{}]}, "mark": {"type": "rule", "color": "#555", "strokeWidth": 1.3}, "encoding": {"x": {"datum": 0}}},
     {"data": {"values": [{}]}, "mark": {"type": "rule", "color": "#555", "strokeWidth": 1.3}, "encoding": {"y": {"datum": 0}}},
     {"data": {"name": "ell"}, "transform": [{"filter": "datum.p == 'g2'"}], "mark": {"type": "line", "interpolate": "cardinal-closed", "tension": -0.657, "strokeWidth": 1}, "encoding": {
       "x": {"field": "x", "type": "quantitative", "scale": {"domain": [-21.6, 21.6], "nice": false, "zero": false}, "axis": {"title": "t[1]", "tickCount": 40, "format": "d", "values": [-20,-17.5,-15,-12.5,-10,-7.5,-5,-2.5,0,2.5,5,7.5,10,12.5,15,17.5,20], "labelExpr": "datum.value % 10 ? '' : datum.label"}},
       "y": {"field": "y", "type": "quantitative", "scale": {"domain": [-11.5, 11.5], "nice": false, "zero": false}, "axis": {"title": "t[2]", "tickCount": 40, "format": "d", "values": [-10,-7.5,-5,-2.5,0,2.5,5,7.5,10], "labelExpr": "datum.value % 5 ? '' : datum.label"}},
       "color": {"field": "g", "type": "nominal"}, "order": {"field": "o", "type": "quantitative"}}},
     {"data": {"name": "pts"}, "transform": [{"filter": "datum.p == 'g2'"}], "mark": {"type": "point"}, "encoding": {"x": {"field": "x", "type": "quantitative"}, "y": {"field": "y", "type": "quantitative"}, "color": {"field": "g", "type": "nominal"}, "shape": {"field": "g", "type": "nominal"}}},
     {"data": {"name": "lab"}, "transform": [{"filter": "datum.p == 'g2'"}], "mark": {"type": "text"}, "encoding": {"x": {"field": "x", "type": "quantitative"}, "y": {"field": "y", "type": "quantitative"}, "text": {"field": "t"}, "color": {"field": "g", "type": "nominal"}}}
    ]}
  ]}
],
"spacing": 17
}
